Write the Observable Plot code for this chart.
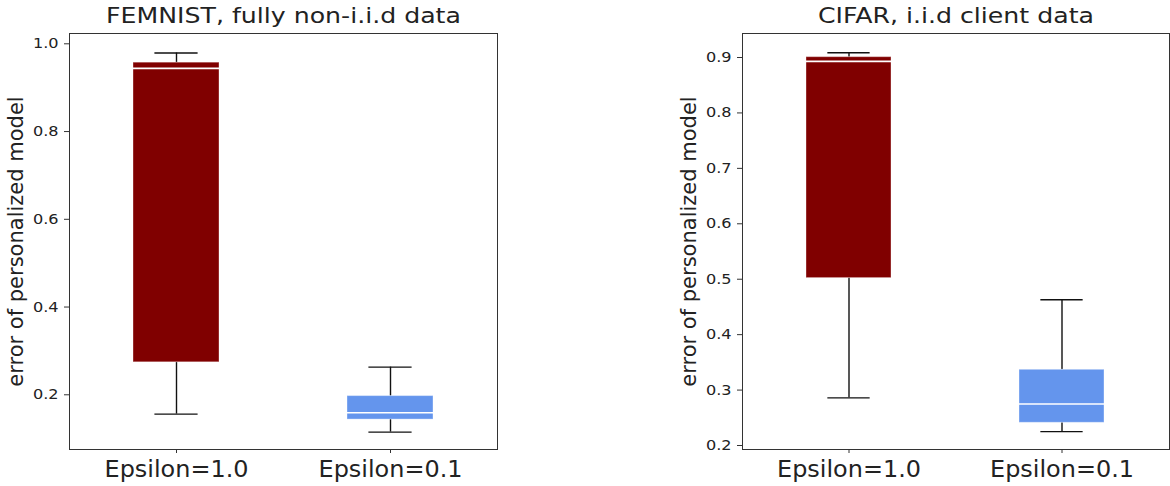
<!DOCTYPE html>
<html>
<head>
<meta charset="utf-8">
<script src="https://cdn.jsdelivr.net/npm/d3@7"></script>
<script src="https://cdn.jsdelivr.net/npm/@observablehq/plot@0.6"></script>
<style>
  html, body { margin: 0; padding: 0; background: #fff; }
  #wrap { position: relative; width: 1170px; height: 486px; background: #fff; overflow: hidden; }
  #wrap svg { position: absolute; top: 0; font-family: "DejaVu Sans", sans-serif; color: #222; background: transparent; }
</style>
</head>
<body>
<div id="wrap"></div>
<script>
// ---- data ----
const categories = ["Epsilon=1.0", "Epsilon=0.1"];
const colors = ["#800000", "#6495ED"];

const femnistTitle = "FEMNIST, fully non-i.i.d data";
const femnistWhiskerLow = [0.156, 0.115];
const femnistQ1 = [0.274, 0.1435];
const femnistMedian = [0.944, 0.159];
const femnistQ3 = [0.957, 0.197];
const femnistWhiskerHigh = [0.979, 0.263];
const femnistTicks = [0.2, 0.4, 0.6, 0.8, 1.0];
const femnistDomain = [0.0753, 1.0235];

const cifarTitle = "CIFAR, i.i.d client data";
const cifarWhiskerLow = [0.286, 0.225];
const cifarQ1 = [0.502, 0.241];
const cifarMedian = [0.893, 0.275];
const cifarQ3 = [0.9006, 0.3366];
const cifarWhiskerHigh = [0.9085, 0.463];
const cifarTicks = [0.2, 0.3, 0.4, 0.5, 0.6, 0.7, 0.8, 0.9];
const cifarDomain = [0.1928, 0.9433];

const yLabel = "error of personalized model";

function rows(lo, q1, med, q3, hi) {
  return categories.map((c, i) => ({cat: c, lo: lo[i], q1: q1[i], med: med[i], q3: q3[i], hi: hi[i], color: colors[i]}));
}

// the reference image is horizontally stretched: widen glyphs to match
const STRETCH_TITLE = 1.2, STRETCH_YTICK = 1.15, STRETCH_XTICK = 1.04;

function panel({data, title, ticks, domain, width, marginRight}) {
  const marginLeft = 69, marginTop = 33, marginBottom = 37, height = 486;
  const frameW = width - marginLeft - marginRight;
  const capInset = frameW * 0.2 / 4;
  return Plot.plot({
    width, height, marginLeft, marginRight, marginTop, marginBottom,
    style: {fontFamily: "DejaVu Sans, sans-serif", color: "#222", background: "transparent"},
    x: {type: "band", domain: categories, paddingInner: 0.6, paddingOuter: 0.3, label: null},
    y: {domain, label: null},
    marks: [
      Plot.ruleX(data, {x: "cat", y1: "lo", y2: "q1", stroke: "#111", strokeWidth: 1.4}),
      Plot.ruleX(data, {x: "cat", y1: "q3", y2: "hi", stroke: "#111", strokeWidth: 1.4}),
      Plot.tickY(data, {x: "cat", y: "lo", stroke: "#111", strokeWidth: 1.4, insetLeft: capInset, insetRight: capInset}),
      Plot.tickY(data, {x: "cat", y: "hi", stroke: "#111", strokeWidth: 1.4, insetLeft: capInset, insetRight: capInset}),
      Plot.barY(data, {x: "cat", y1: "q1", y2: "q3", fill: "color", stroke: "#ffffff", strokeOpacity: 0.35, strokeWidth: 1}),
      Plot.tickY(data, {x: "cat", y: "med", stroke: "#ffffff", strokeWidth: 1.6}),
      Plot.frame({stroke: "#333", strokeWidth: 1}),
      Plot.axisY({ticks, tickFormat: d3.format(".1f"), tickSize: 5, tickPadding: 6, fontSize: 14, label: null, stroke: "#333"}),
      Plot.axisX({tickSize: 4, tickPadding: 7, fontSize: 23, label: null, stroke: "#333"}),
      Plot.text([yLabel], {frameAnchor: "left", textAnchor: "middle", lineAnchor: "middle", rotate: -90, dx: -53.6, fontSize: 21, fill: "#222"}),
      Plot.text([title], {frameAnchor: "top", textAnchor: "middle", dy: -11, lineAnchor: "bottom", fontSize: 21, fill: "#222"})
    ]
  });
}

const wrap = document.getElementById("wrap");
const left = panel({data: rows(femnistWhiskerLow, femnistQ1, femnistMedian, femnistQ3, femnistWhiskerHigh), title: femnistTitle, ticks: femnistTicks, domain: femnistDomain, width: 500, marginRight: 3});
left.style.left = "0px";
const right = panel({data: rows(cifarWhiskerLow, cifarQ1, cifarMedian, cifarQ3, cifarWhiskerHigh), title: cifarTitle, ticks: cifarTicks, domain: cifarDomain, width: 497, marginRight: 1});
right.style.left = "673px";
wrap.appendChild(left);
wrap.appendChild(right);

for (const svg of [left, right]) {
  svg.querySelectorAll("text").forEach(t => {
    const txt = t.textContent;
    const g = t.closest("g[aria-label]");
    const lab = g ? g.getAttribute("aria-label") : "";
    let s = null;
    if (txt === femnistTitle || txt === cifarTitle) s = STRETCH_TITLE;
    else if (lab === "y-axis tick label") s = STRETCH_YTICK;
    else if (lab === "x-axis tick label") s = STRETCH_XTICK;
    if (!s) return;
    const len = t.getComputedTextLength();
    if (len > 0) {
      t.setAttribute("textLength", (len * s).toFixed(2));
      t.setAttribute("lengthAdjust", "spacingAndGlyphs");
    }
  });
}
</script>
</body>
</html>
